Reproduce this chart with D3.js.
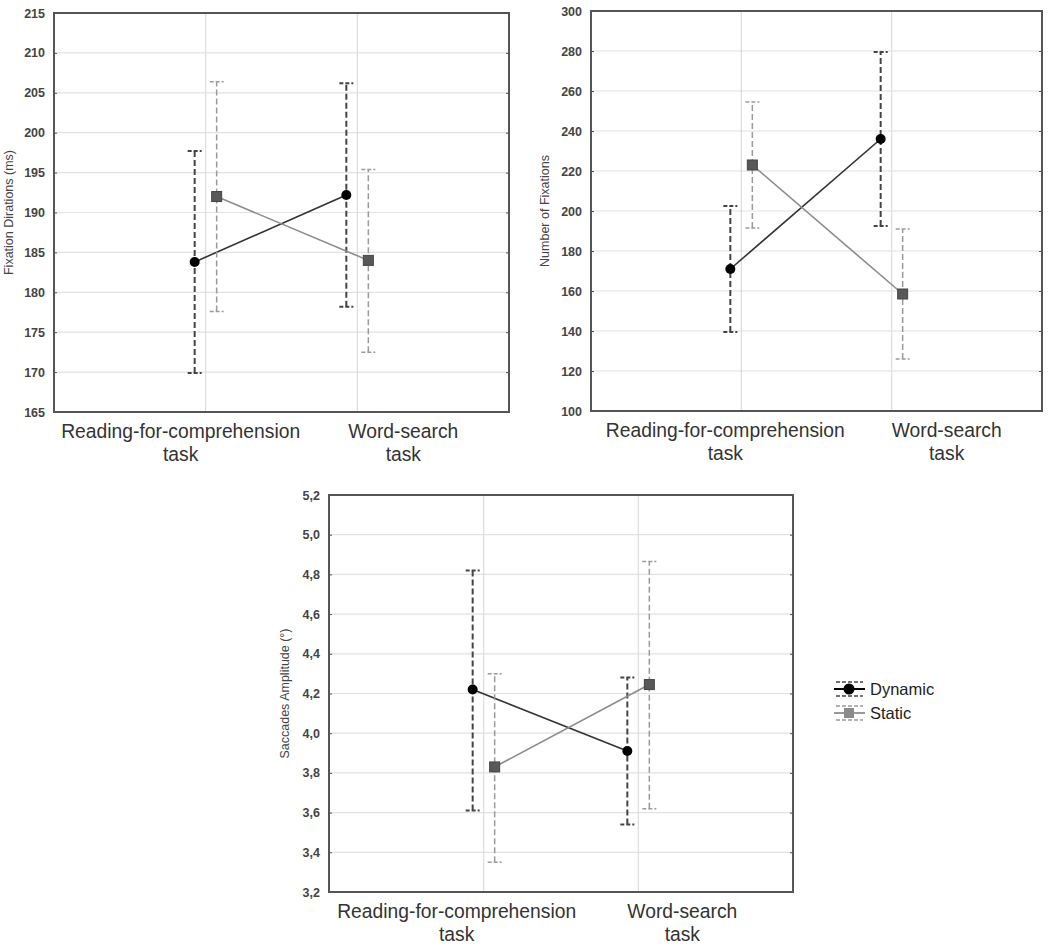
<!DOCTYPE html>
<html lang="en">
<head>
<meta charset="utf-8">
<title>Fixations and saccades by task</title>
<script src="https://d3js.org/d3.v7.min.js"></script>
<style type="text/css">
  body { margin: 0; background: #fff; }
  text { font-family: "Liberation Sans", Arial, sans-serif; }
</style>
</head>
<body>
<svg id="chart" width="1063" height="950"></svg>
<script type="text/javascript">
// categories and groups
var tasks = ["Reading-for-comprehension", "Word-search"];
var groups = ["Dynamic", "Static"];

// Fixation durations (ms)
var fixDurTicks = [165, 170, 175, 180, 185, 190, 195, 200, 205, 210, 215];
var fixDurDynamic = [183.8, 192.2];
var fixDurDynamicLo = [169.9, 178.2];
var fixDurDynamicHi = [197.7, 206.2];
var fixDurStatic = [192.0, 184.0];
var fixDurStaticLo = [177.6, 172.5];
var fixDurStaticHi = [206.4, 195.4];

// Number of fixations
var nFixTicks = [100, 120, 140, 160, 180, 200, 220, 240, 260, 280, 300];
var nFixDynamic = [171, 236];
var nFixDynamicLo = [139.5, 192.5];
var nFixDynamicHi = [202.5, 279.5];
var nFixStatic = [223, 158.5];
var nFixStaticLo = [191.5, 126];
var nFixStaticHi = [254.5, 191];

// Saccades amplitude (deg)
var saccTicks = [3.2, 3.4, 3.6, 3.8, 4.0, 4.2, 4.4, 4.6, 4.8, 5.0, 5.2];
var saccDynamic = [4.22, 3.91];
var saccDynamicLo = [3.61, 3.54];
var saccDynamicHi = [4.82, 4.28];
var saccStatic = [3.83, 4.245];
var saccStaticLo = [3.35, 3.62];
var saccStaticHi = [4.30, 4.865];

var svg = d3.select("#chart");

var style = {
  Dynamic: { line: "#333", err: "#444", errW: 2, dx: -11 },
  Static:  { line: "#8c8c8c", err: "#9a9a9a", errW: 1.5, dx: 11 }
};

function series(mean, lo, hi) {
  return tasks.map(function(t, i) { return { task: t, m: mean[i], lo: lo[i], hi: hi[i] }; });
}

function drawPanel(cfg) {
  var g = svg.append("g");
  var x = d3.scalePoint().domain(tasks).range([cfg.left, cfg.right]).padding(1);
  var y = d3.scaleLinear().domain([cfg.ticks[0], cfg.ticks[cfg.ticks.length - 1]])
            .range([cfg.bottom, cfg.top]);

  //grid lines
  g.selectAll(".hgrid").data(cfg.ticks.slice(1, -1)).enter().append("line")
    .attr("x1", cfg.left).attr("x2", cfg.right)
    .attr("y1", function(d) { return y(d); }).attr("y2", function(d) { return y(d); })
    .attr("stroke", "#e2e2e2").attr("stroke-width", 1.2);
  g.selectAll(".vgrid").data(tasks).enter().append("line")
    .attr("x1", function(d) { return x(d); }).attr("x2", function(d) { return x(d); })
    .attr("y1", cfg.top).attr("y2", cfg.bottom)
    .attr("stroke", "#dcdcdc").attr("stroke-width", 1.2);

  //y axis
  var yAxis = d3.axisLeft(y).tickValues(cfg.ticks).tickSize(-3).tickPadding(9)
                .tickFormat(cfg.fmt);
  var ya = g.append("g").attr("transform", "translate(" + cfg.left + ",0)").call(yAxis);
  ya.select(".domain").remove();
  ya.selectAll("line").attr("stroke", "#555");
  ya.selectAll("text").attr("font-size", 12.5).attr("font-weight", "bold").attr("fill", "#444");
  var yr = g.append("g").attr("transform", "translate(" + cfg.right + ",0)")
            .call(d3.axisRight(y).tickValues(cfg.ticks).tickSize(-3).tickFormat(""));
  yr.select(".domain").remove();
  yr.selectAll("line").attr("stroke", "#555");

  //frame
  g.append("rect").attr("x", cfg.left).attr("y", cfg.top)
    .attr("width", cfg.right - cfg.left).attr("height", cfg.bottom - cfg.top)
    .attr("fill", "none").attr("stroke", "#555").attr("stroke-width", 2);

  //y title
  g.append("text")
    .attr("transform", "translate(" + cfg.ylx + "," + ((cfg.top + cfg.bottom) / 2) + ") rotate(-90)")
    .attr("text-anchor", "middle").attr("dy", "0.35em")
    .attr("font-size", 12.5).attr("fill", "#444").text(cfg.ylabel);

  //category labels
  tasks.forEach(function(t, i) {
    var cx = x(t) + cfg.labelDx[i];
    g.append("text").attr("x", cx).attr("y", cfg.bottom + 26)
      .attr("text-anchor", "middle").attr("font-size", 19.3).attr("fill", "#333").text(t);
    g.append("text").attr("x", cx).attr("y", cfg.bottom + 49)
      .attr("text-anchor", "middle").attr("font-size", 19.3).attr("fill", "#333").text("task");
  });

  //series: error bars, lines, markers
  cfg.data.forEach(function(s) {
    var st = style[s.group];
    var px = function(d) { return x(d.task) + st.dx; };
    var eg = g.append("g");
    eg.selectAll(".bar").data(s.values).enter().append("line")
      .attr("x1", px).attr("x2", px)
      .attr("y1", function(d) { return y(d.lo); }).attr("y2", function(d) { return y(d.hi); })
      .attr("stroke", st.err).attr("stroke-width", st.errW).attr("stroke-dasharray", "6,3");
    ["lo", "hi"].forEach(function(k) {
      eg.selectAll(".cap" + k).data(s.values).enter().append("line")
        .attr("x1", function(d) { return px(d) - 7; }).attr("x2", function(d) { return px(d) + 7; })
        .attr("y1", function(d) { return y(d[k]); }).attr("y2", function(d) { return y(d[k]); })
        .attr("stroke", st.err).attr("stroke-width", st.errW).attr("stroke-dasharray", "4,2");
    });
    g.append("path").datum(s.values)
      .attr("d", d3.line().x(px).y(function(d) { return y(d.m); }))
      .attr("fill", "none").attr("stroke", st.line).attr("stroke-width", 1.6);
  });
  cfg.data.forEach(function(s) {
    var st = style[s.group];
    var px = function(d) { return x(d.task) + st.dx; };
    if (s.group === "Dynamic") {
      g.selectAll(".dot").data(s.values).enter().append("circle")
        .attr("cx", px).attr("cy", function(d) { return y(d.m); }).attr("r", 5)
        .attr("fill", "#000");
    } else {
      g.selectAll(".sq").data(s.values).enter().append("rect")
        .attr("x", function(d) { return px(d) - 5; }).attr("y", function(d) { return y(d.m) - 5; })
        .attr("width", 10).attr("height", 10)
        .attr("fill", "#585858").attr("stroke", "#444").attr("stroke-width", 1);
    }
  });
}

drawPanel({
  left: 54, right: 509, top: 13, bottom: 412, ylx: 9, labelDx: [-25, 46],
  ticks: fixDurTicks, fmt: d3.format("d"), ylabel: "Fixation Dirations (ms)",
  data: [
    { group: "Dynamic", values: series(fixDurDynamic, fixDurDynamicLo, fixDurDynamicHi) },
    { group: "Static", values: series(fixDurStatic, fixDurStaticLo, fixDurStaticHi) }
  ]
});

drawPanel({
  left: 591, right: 1042, top: 11, bottom: 411, ylx: 545, labelDx: [-16, 55],
  ticks: nFixTicks, fmt: d3.format("d"), ylabel: "Number of Fixations",
  data: [
    { group: "Dynamic", values: series(nFixDynamic, nFixDynamicLo, nFixDynamicHi) },
    { group: "Static", values: series(nFixStatic, nFixStaticLo, nFixStaticHi) }
  ]
});

drawPanel({
  left: 329, right: 793, top: 495, bottom: 892, ylx: 285, labelDx: [-27, 44],
  ticks: saccTicks, fmt: function(d) { return d3.format(".1f")(d).replace(".", ","); },
  ylabel: "Saccades Amplitude (°)",
  data: [
    { group: "Dynamic", values: series(saccDynamic, saccDynamicLo, saccDynamicHi) },
    { group: "Static", values: series(saccStatic, saccStaticLo, saccStaticHi) }
  ]
});

//legend
var legend = svg.append("g").attr("transform", "translate(834,689)");
groups.forEach(function(gr, i) {
  var st = style[gr];
  var row = legend.append("g").attr("transform", "translate(0," + (i * 24) + ")");
  [-7, 7].forEach(function(dy) {
    row.append("line").attr("x1", 2).attr("x2", 29).attr("y1", dy).attr("y2", dy)
      .attr("stroke", st.err).attr("stroke-width", 1.5).attr("stroke-dasharray", "4,2");
  });
  row.append("line").attr("x1", 0).attr("x2", 31).attr("y1", 0).attr("y2", 0)
    .attr("stroke", gr === "Dynamic" ? "#000" : "#999").attr("stroke-width", 2);
  if (gr === "Dynamic") {
    row.append("circle").attr("cx", 15).attr("cy", 0).attr("r", 5.5).attr("fill", "#000");
  } else {
    row.append("rect").attr("x", 10).attr("y", -5).attr("width", 10).attr("height", 10)
      .attr("fill", "#8a8a8a");
  }
  row.append("text").attr("x", 36).attr("y", 0).attr("dy", "0.36em")
    .attr("font-size", 16.5).attr("fill", "#222").text(gr);
});
</script>
</body>
</html>
